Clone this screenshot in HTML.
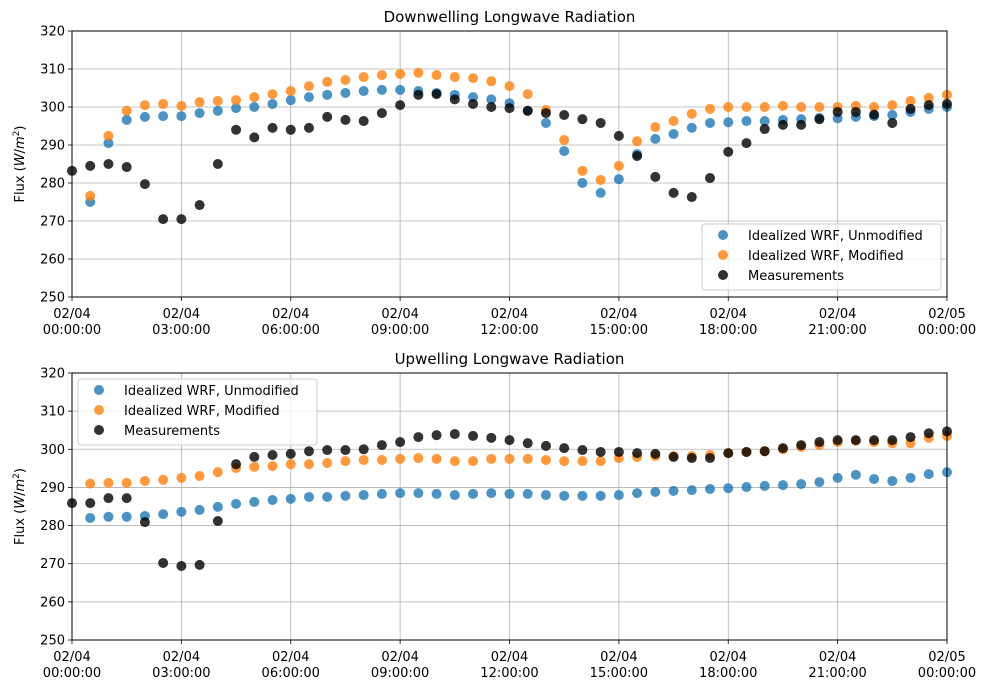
<!DOCTYPE html>
<html><head><meta charset="utf-8"><style>
body{margin:0;background:#fff;}
svg{display:block;font-family:"DejaVu Sans","Liberation Sans",sans-serif;}
</style></head><body>
<svg id="fig" width="989" height="690" viewBox="0 0 989 690"></svg>
<script>
const hours = Array.from({length:49},(_,i)=>i*0.5);
const xTickHours = [0,3,6,9,12,15,18,21,24];
const xTickDates = ["02/04","02/04","02/04","02/04","02/04","02/04","02/04","02/04","02/05"];
const xTickTimes = ["00:00:00","03:00:00","06:00:00","09:00:00","12:00:00","15:00:00","18:00:00","21:00:00","00:00:00"];
const yTicks = [250,260,270,280,290,300,310,320];
const seriesNames = ["Idealized WRF, Unmodified","Idealized WRF, Modified","Measurements"];
const downUnmod = [null,275,290.5,296.6,297.4,297.6,297.6,298.4,299,299.7,300,300.8,301.8,302.6,303.2,303.7,304.2,304.5,304.5,304.2,303.7,303.2,302.6,302,301,299,295.8,288.4,280,277.4,281,287.6,291.6,292.9,294.5,295.8,296,296.3,296.3,296.6,296.8,297.1,297,297.4,297.6,297.9,298.7,299.5,300];
const downMod = [null,276.6,292.4,299,300.5,300.8,300.3,301.3,301.6,301.8,302.6,303.4,304.2,305.5,306.6,307.1,307.9,308.4,308.7,309,308.4,307.9,307.6,306.8,305.5,303.4,299.2,291.3,283.2,280.8,284.5,291,294.7,296.3,298.2,299.5,300,300,300,300.3,300,300,300,300.3,300,300.5,301.6,302.4,303.2];
const downMeas = [283.2,284.5,285,284.2,279.7,270.5,270.5,274.2,285,294,292,294.5,294,294.5,297.4,296.6,296.3,298.4,300.5,303.2,303.4,302,300.8,300,299.7,299,298.4,297.9,296.8,295.8,292.4,287.1,281.6,277.4,276.3,281.3,288.2,290.5,294.2,295.3,295.3,296.8,298.7,298.7,298,295.8,299.5,300.5,300.8];
const upUnmod = [null,282,282.3,282.3,282.5,283,283.6,284.1,284.9,285.7,286.2,286.7,287,287.5,287.5,287.8,288,288.3,288.5,288.5,288.3,288,288.3,288.5,288.3,288.3,288,287.8,287.8,287.8,288,288.5,288.8,289.1,289.3,289.6,289.8,290.1,290.4,290.6,290.9,291.4,292.5,293.3,292.2,291.7,292.5,293.5,294];
const upMod = [null,291,291.2,291.2,291.7,292,292.5,293,294,295.1,295.4,295.6,296.1,296.1,296.4,296.9,297.2,297.2,297.5,297.7,297.5,296.9,296.9,297.5,297.5,297.5,297.2,296.9,296.9,296.9,297.7,298,298.2,298.2,298.2,298.5,299,299.3,299.5,300,300.6,301.1,301.9,302.2,301.9,301.6,301.6,303,303.5];
const upMeas = [285.9,285.9,287.2,287.2,280.9,270.2,269.4,269.7,281.2,296.1,298,298.5,298.8,299.5,299.8,299.8,300,301.1,301.9,303.2,303.7,304,303.5,303,302.4,301.6,300.9,300.3,299.8,299.3,299.3,299,298.8,298,297.7,297.7,299,299.3,299.5,300.3,301.1,301.9,302.4,302.4,302.4,302.4,303.2,304.2,304.7];

const NS="http://www.w3.org/2000/svg";
const svg=document.getElementById('fig');
const colors=["#1f77b4","#ff7f0e","#000000"];
function mk(tag,attrs,parent){const e=document.createElementNS(NS,tag);for(const k in attrs)e.setAttribute(k,attrs[k]);(parent||svg).appendChild(e);return e;}

function panel(key,top,bottom,title,series,legendPos){
  const L=72,R=947;
  const g=mk('g',{});
  
  
  const xs=h=>L+(h/24)*(R-L);
  const ys=v=>bottom-(v-250)/70*(bottom-top);
  xTickHours.forEach((h,i)=>{
    const ln=mk('line',{x1:xs(h),x2:xs(h),y1:top,y2:bottom,stroke:'#b0b0b0','stroke-width':0.8},g);
    
    
    mk('line',{x1:xs(h),x2:xs(h),y1:bottom,y2:bottom+4,stroke:'#000','stroke-width':0.8},g);
    const t1=mk('text',{x:xs(h),y:bottom+21,'text-anchor':'middle','font-size':13},g);t1.textContent=xTickDates[i];
    
    
    const t2=mk('text',{x:xs(h),y:bottom+37,'text-anchor':'middle','font-size':13},g);t2.textContent=xTickTimes[i];
    
    
  });
  yTicks.forEach(v=>{
    mk('line',{x1:L,x2:R,y1:ys(v),y2:ys(v),stroke:'#b0b0b0','stroke-width':0.8},g);
    mk('line',{x1:L-4,x2:L,y1:ys(v),y2:ys(v),stroke:'#000','stroke-width':0.8},g);
    const t=mk('text',{x:L-7,y:ys(v)+4.5,'text-anchor':'end','font-size':13},g);t.textContent=v;
    
    
  });
  series.forEach((arr,si)=>{
    const sg=mk('g',{},g);
    
    
    arr.forEach((v,i)=>{
      if(v===null)return;
      const c=mk('circle',{cx:xs(hours[i]),cy:ys(v),r:5,fill:colors[si],'fill-opacity':0.8},sg);
      
      
    });
  });
  const fr=mk('rect',{x:L,y:top,width:R-L,height:bottom-top,fill:'none',stroke:'#000','stroke-width':1},g);
  
  
  const tt=mk('text',{x:(L+R)/2,y:top-9,'text-anchor':'middle','font-size':15},g);tt.textContent=title;
  
  
  const yl=mk('text',{x:0,y:0,'text-anchor':'middle','font-size':13,transform:`translate(24,${(top+bottom)/2}) rotate(-90)`},g);
  yl.innerHTML='Flux (<tspan font-style="italic">W</tspan>/<tspan font-style="italic">m</tspan><tspan font-size="9" dy="-5">2</tspan><tspan dy="5">)</tspan>';
  
  
  const lg=mk('g',{},g);
  
  
  mk('rect',{x:legendPos[0],y:legendPos[1],width:239,height:66,rx:3,fill:'#fff','fill-opacity':0.8,stroke:'#ccc'},lg);
  seriesNames.forEach((n,i)=>{
    const e=mk('g',{},lg);
    
    
    const cy=legendPos[1]+11+i*20;
    mk('circle',{cx:legendPos[0]+21,cy:cy,r:5,fill:colors[i],'fill-opacity':0.8},e);
    const t=mk('text',{x:legendPos[0]+46,y:cy+5,'font-size':13},e);t.textContent=n;
  });
}
panel('downwelling',31,297,'Downwelling Longwave Radiation',[downUnmod,downMod,downMeas],[702,224]);
panel('upwelling',373,640,'Upwelling Longwave Radiation',[upUnmod,upMod,upMeas],[78,379]);
</script>
</body></html>
